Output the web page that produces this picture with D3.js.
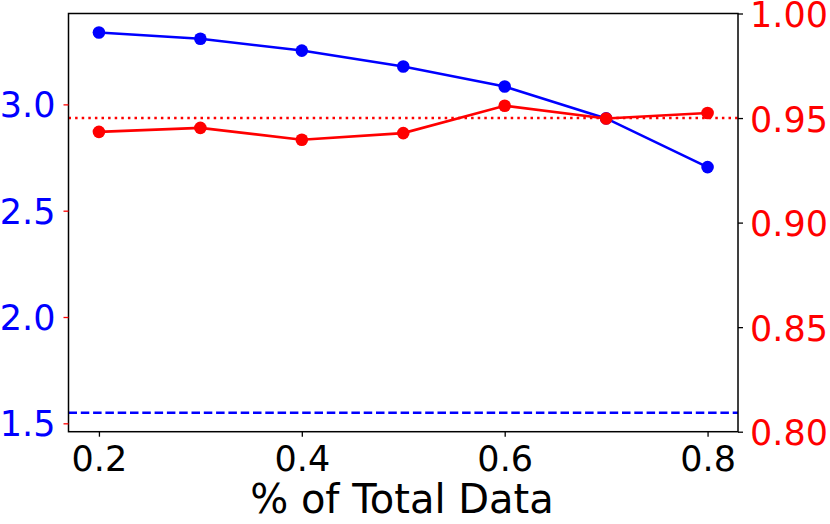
<!DOCTYPE html>
<html><head><meta charset="utf-8">
<script src="https://cdn.jsdelivr.net/npm/d3@7"></script>
<style>body{margin:0;background:#fff}text{font-family:"DejaVu Sans",sans-serif}</style>
</head><body>
<svg id="c" width="830" height="524"></svg>
<script>
const xValues = [0.2, 0.3, 0.4, 0.5, 0.6, 0.7, 0.8];
const blueValues = [3.338, 3.309, 3.253, 3.178, 3.084, 2.934, 2.705];
const redValues = [0.9434, 0.9453, 0.9396, 0.9428, 0.9559, 0.9498, 0.9524];
const blueBaseline = 1.55;
const redBaseline = 0.95;
const xTicks = [0.2, 0.4, 0.6, 0.8];
const leftTicks = [1.5, 2.0, 2.5, 3.0];
const rightTicks = [0.80, 0.85, 0.90, 0.95, 1.00];
const xLabel = "% of Total Data";

const L = 68.5, R = 738, T = 13.5, B = 431.7;
const svg = d3.select("#c");
const x = d3.scaleLinear().domain([0.17, 0.83]).range([L, R]);
const yl = d3.scaleLinear().domain([1.4606, 3.4274]).range([B, T]);
const yr = d3.scaleLinear().domain([0.80, 1.00]).range([B, T]);

const fs = 35, fl = 40;
// baselines
svg.append("line").attr("x1", L).attr("x2", R).attr("y1", yl(blueBaseline)).attr("y2", yl(blueBaseline))
  .attr("stroke", "#0000ff").attr("stroke-width", 2.5).attr("stroke-dasharray", "8.5,3.8");
svg.append("line").attr("x1", L).attr("x2", R).attr("y1", yr(redBaseline)).attr("y2", yr(redBaseline))
  .attr("stroke", "#ff0000").attr("stroke-width", 2.5).attr("stroke-dasharray", "2.5,4.1");

// blue series
svg.append("path").datum(xValues.map((v, i) => [v, blueValues[i]]))
  .attr("fill", "none").attr("stroke", "#0000ff").attr("stroke-width", 2.6)
  .attr("d", d3.line().x(d => x(d[0])).y(d => yl(d[1])));
svg.selectAll(".bd").data(xValues).join("circle")
  .attr("cx", d => x(d)).attr("cy", (d, i) => yl(blueValues[i])).attr("r", 6.3).attr("fill", "#0000ff");

// red series
svg.append("path").datum(xValues.map((v, i) => [v, redValues[i]]))
  .attr("fill", "none").attr("stroke", "#ff0000").attr("stroke-width", 2.6)
  .attr("d", d3.line().x(d => x(d[0])).y(d => yr(d[1])));
svg.selectAll(".rd").data(xValues).join("circle")
  .attr("cx", d => x(d)).attr("cy", (d, i) => yr(redValues[i])).attr("r", 6.3).attr("fill", "#ff0000");

// frame
svg.append("rect").attr("x", L).attr("y", T).attr("width", R - L).attr("height", B - T)
  .attr("fill", "none").attr("stroke", "#000").attr("stroke-width", 1.5);

// x axis
const xa = svg.append("g").attr("transform", `translate(0,${B})`)
  .call(d3.axisBottom(x).tickValues(xTicks).tickFormat(d3.format(".1f")).tickSize(5).tickPadding(9));
xa.select(".domain").remove();
xa.selectAll("line").attr("stroke", "#000").attr("stroke-width", 1.3);
xa.selectAll("text").attr("font-size", fs).attr("fill", "#000").attr("font-family", "DejaVu Sans");

// left axis
const la = svg.append("g").attr("transform", `translate(${L},0)`)
  .call(d3.axisLeft(yl).tickValues(leftTicks).tickFormat(d3.format(".1f")).tickSize(5).tickPadding(8));
la.select(".domain").remove();
la.selectAll("line").attr("stroke", "#ff0000").attr("stroke-width", 1.3);
la.selectAll("text").attr("font-size", fs).attr("fill", "#0000ff").attr("font-family", "DejaVu Sans").attr("dy", "0.36em");

// right axis
const ra = svg.append("g").attr("transform", `translate(${R},0)`)
  .call(d3.axisRight(yr).tickValues(rightTicks).tickFormat(d3.format(".2f")).tickSize(5).tickPadding(7));
ra.select(".domain").remove();
ra.selectAll("line").attr("stroke", "#000").attr("stroke-width", 1.3);
ra.selectAll("text").attr("font-size", fs).attr("fill", "#ff0000").attr("font-family", "DejaVu Sans").attr("dy", "0.37em");

svg.append("text").attr("x", 402).attr("y", 513).attr("text-anchor", "middle")
  .attr("font-size", fl).attr("fill", "#000").text(xLabel);
</script>
</body></html>
